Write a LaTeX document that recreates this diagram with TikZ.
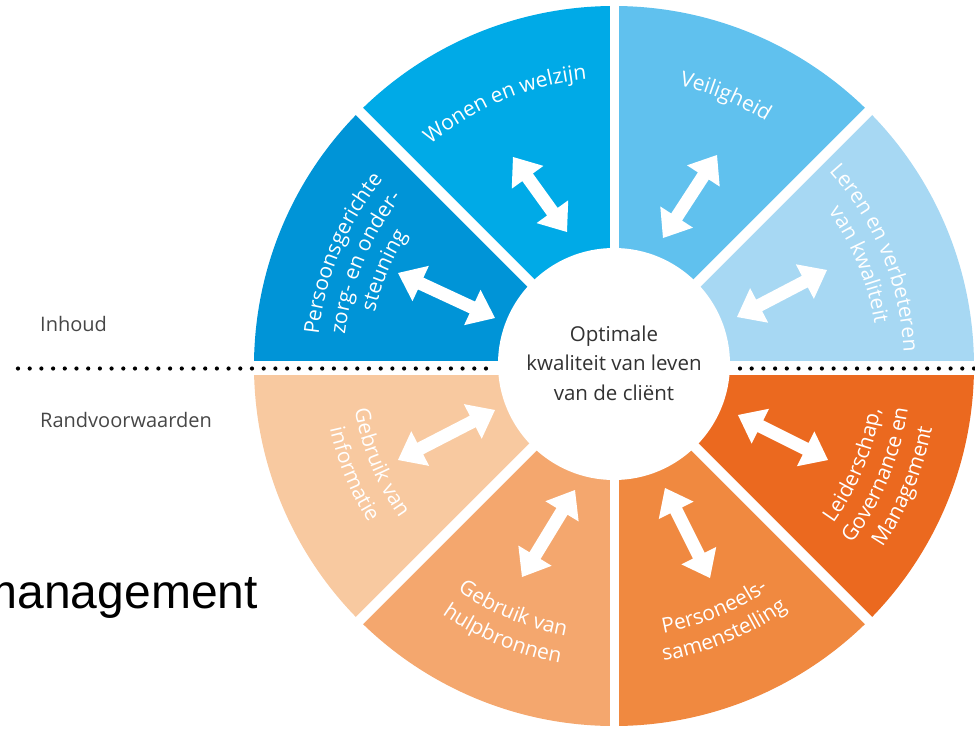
\documentclass[tikz,border=0pt]{standalone}
\usepackage{fontspec}
\setmainfont{Open Sans}
\newfontfamily\mgmtfont{Liberation Sans}
\usetikzlibrary{calc,decorations.text}
\definecolor{cWonen}{RGB}{0,170,231}
\definecolor{cPers}{RGB}{0,148,215}
\definecolor{cVeil}{RGB}{96,193,238}
\definecolor{cLeren}{RGB}{167,216,243}
\definecolor{cLeid}{RGB}{235,105,31}
\definecolor{cPerso}{RGB}{240,137,64}
\definecolor{cHulp}{RGB}{244,167,110}
\definecolor{cInfo}{RGB}{248,201,160}
\definecolor{cText}{RGB}{50,50,50}
\definecolor{cSide}{RGB}{70,70,70}
\newcommand\labsize{\fontsize{21}{25}\selectfont}
\def\AHL{25pt}\def\AHW{19.5pt}\def\ASW{6.5pt}
\newcommand\dblarrow[2]{%
  \fill[white] (#1)
  -- ($(#1)!\AHL!(#2)!\AHW!90:(#2)$)
  -- ($(#1)!\AHL!(#2)!\ASW!90:(#2)$)
  -- ($(#2)!\AHL!(#1)!\ASW!-90:(#1)$)
  -- ($(#2)!\AHL!(#1)!\AHW!-90:(#1)$)
  -- (#2)
  -- ($(#2)!\AHL!(#1)!\AHW!90:(#1)$)
  -- ($(#2)!\AHL!(#1)!\ASW!90:(#1)$)
  -- ($(#1)!\AHL!(#2)!\ASW!-90:(#2)$)
  -- ($(#1)!\AHL!(#2)!\AHW!-90:(#2)$)
  -- cycle;}
% clockwise arc: letter tops point outward
\newcommand\arccw[3]{%
  \pgfmathsetmacro\sa{#2+28}\pgfmathsetmacro\ea{#2-28}%
  \path[decorate,decoration={text along path,text align=center,text color=white,text={|\labsize|#3}}]
    (\sa:#1pt) arc[start angle=\sa,end angle=\ea,radius=#1pt];}
% counter-clockwise arc: letter tops point inward
\newcommand\arcccw[3]{%
  \pgfmathsetmacro\sa{#2-28}\pgfmathsetmacro\ea{#2+28}%
  \path[decorate,decoration={text along path,text align=center,text color=white,text={|\labsize|#3}}]
    (\sa:#1pt) arc[start angle=\sa,end angle=\ea,radius=#1pt];}
\tikzset{
  dotline/.style={line width=4.2pt,line cap=round,dash pattern=on 0pt off 11.7pt,black},
  sidelabel/.style={inner sep=0pt,text=cSide,font=\fontsize{20}{24}\selectfont}
}
\begin{document}
\begin{tikzpicture}[x=1pt,y=1pt]
\useasboundingbox (-614,-363) rectangle (361,366);
\clip (-614,-363) rectangle (361,366);
% sectors
\foreach \a/\c in {0/cLeren,45/cVeil,90/cWonen,135/cPers,180/cInfo,225/cHulp,270/cPerso,315/cLeid}
  \fill[\c] (0,0) -- (\a:360pt) arc[start angle=\a,end angle=\a+45,radius=360pt] -- cycle;
% white gaps
\foreach \a in {45,135,225,315} \draw[white,line width=10pt] (0,0) -- (\a:372pt);
\fill[white] (-4,-372) rectangle (5,372);
\fill[white] (-372,-9) rectangle (372,5);
% hub
\node[circle,fill=white,minimum size=232pt,inner sep=0pt] (hub) at (0,2) {};
\node[align=center,text=cText,font=\fontsize{20.5}{29.5}\selectfont] (hubtext) at (0,3)
  {Optimale\\kwaliteit van leven\\van de cliënt};
% dotted separators
\coordinate (dl1) at (-596,-2.5); \coordinate (dl2) at (-121,-2.5);
\coordinate (dr1) at (126,-2.5);  \coordinate (dr2) at (365,-2.5);
\draw[dotline] (dl1) -- (dl2);
\draw[dotline] (dr1) -- (dr2);
% side labels
\node[sidelabel,anchor=base west] (inhoud) at (-574,35) {Inhoud};
\node[sidelabel,anchor=base west] (rand) at (-574,-61) {Randvoorwaarden};
\node[anchor=base east,inner sep=0pt,font=\mgmtfont\fontsize{48}{52}\selectfont] (mgmt) at (-356,-242) {management};
% arrows
\coordinate (wonA) at (-101,209); \coordinate (wonB) at (-47,134);
\coordinate (veiA) at (103,211);  \coordinate (veiB) at (49,128);
\coordinate (perA) at (-216,93);  \coordinate (perB) at (-119,48);
\coordinate (lerA) at (213,96);   \coordinate (lerB) at (123,49);
\coordinate (infA) at (-119,-44); \coordinate (infB) at (-216,-94);
\coordinate (hulA) at (-39,-124); \coordinate (hulB) at (-92,-211);
\coordinate (leiA) at (124,-49);  \coordinate (leiB) at (214,-94);
\coordinate (psA) at (51,-122);   \coordinate (psB) at (96,-212);
\dblarrow{wonA}{wonB}
\dblarrow{veiA}{veiB}
\dblarrow{perA}{perB}
\dblarrow{lerA}{lerB}
\dblarrow{infA}{infB}
\dblarrow{hulA}{hulB}
\dblarrow{leiA}{leiB}
\dblarrow{psA}{psB}
% curved labels
\arccw{288}{112.5}{Wonen en welzijn}
\arccw{288}{67.5}{Veiligheid}
\arccw{297}{157.5}{Persoonsgerichte}
\arccw{271}{157.5}{zorg- en onder-}
\arccw{245}{157.5}{steuning}
\arccw{290}{22.5}{Leren en verbeteren}
\arccw{264}{22.5}{van kwaliteit}
\arcccw{270}{-22.5}{Leiderschap,}
\arcccw{297}{-22.5}{Governance en}
\arcccw{324}{-22.5}{Management}
\arcccw{272}{-67.5}{Personeels-}
\arcccw{299}{-67.5}{samenstelling}
\arcccw{274}{-112.5}{Gebruik van}
\arcccw{302}{-112.5}{hulpbronnen}
\arcccw{263}{-157.5}{Gebruik van}
\arcccw{291}{-157.5}{informatie}
\end{tikzpicture}
\end{document}
